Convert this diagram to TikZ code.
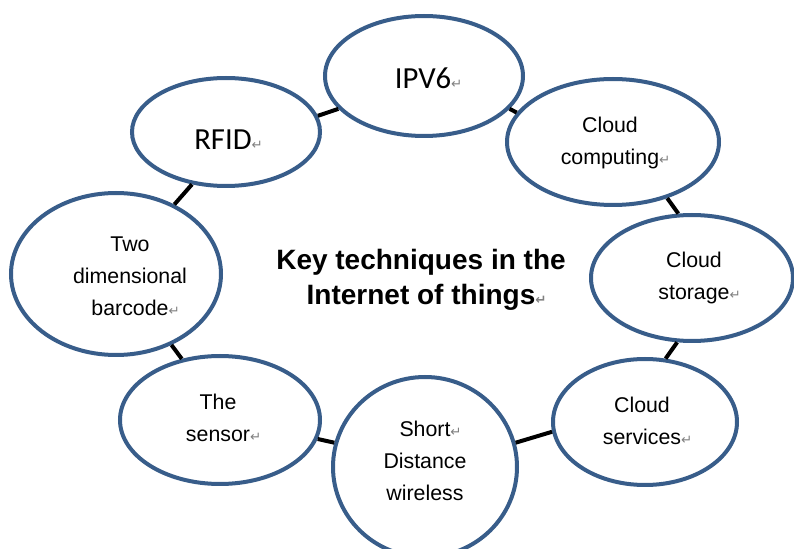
\documentclass[tikz,border=0pt]{standalone}
\usepackage{fontspec}
\setmainfont{Liberation Sans}
\newfontfamily\calibri{Carlito}
\newfontfamily\arrowfont{DejaVu Sans}
\usetikzlibrary{shapes.geometric}
\definecolor{ringblue}{RGB}{56,93,138}
\newcommand{\retmark}{\rlap{\fontsize{10}{10}\selectfont\arrowfont\textcolor{gray}{↵}}}

\begin{document}
\begin{tikzpicture}[x=0.75pt,y=-0.75pt,
  every node/.style={font=\fontsize{16}{24}\selectfont,align=center},
  bubble/.style 2 args={ellipse,draw=ringblue,line width=3pt,fill=white,inner sep=0pt,
    minimum width=#1*0.75pt,minimum height=#2*0.75pt},
  link/.style={line width=3pt,black}]
\useasboundingbox (0,0) rectangle (794,549);
% ring of techniques
\node[bubble={198}{120}] (ipv) at (424,76) {};
\node[bubble={212}{126}] (comp) at (613,142) {};
\node[bubble={202}{126}] (stor) at (692,278) {};
\node[bubble={184}{126}] (serv) at (645,422) {};
\node[bubble={184}{180}] (short) at (425,467) {};
\node[bubble={200}{128}] (sens) at (220,420) {};
\node[bubble={210}{162}] (bar) at (116,274) {};
\node[bubble={188}{108}] (rfid) at (226,132) {};
\foreach \a/\b in {rfid.10/ipv.201,ipv.339/comp.163,comp.314/stor.102,stor.257/serv.72,
    serv.186/short.15,short.165/sens.349,sens.122/bar.308,bar.50/rfid.237}
  \draw[link] (\a) -- (\b);
% labels
\node[font=\calibri\fontsize{23}{28}\selectfont] (ipv-t) at (423,78) {IPV6\retmark};
\node[font=\calibri\fontsize{23}{28}\selectfont] (rfid-t) at (223,140) {RFID\retmark};
\node (comp-t) at (610,143) {Cloud\\computing\retmark};
\node (stor-t) at (694,278) {Cloud\\storage\retmark};
\node (serv-t) at (642,421) {Cloud\\services\retmark};
\node (short-t) at (425,461) {Short\retmark\\Distance\\wireless};
\node (sens-t) at (218,418) {The\\sensor\retmark};
\node (bar-t) at (130,276) {Two\\dimensional\\barcode\retmark};
\node[font=\bfseries\fontsize{21}{26}\selectfont] (title) at (421,280) {Key techniques in the\\Internet of things\retmark};
\end{tikzpicture}
\end{document}
